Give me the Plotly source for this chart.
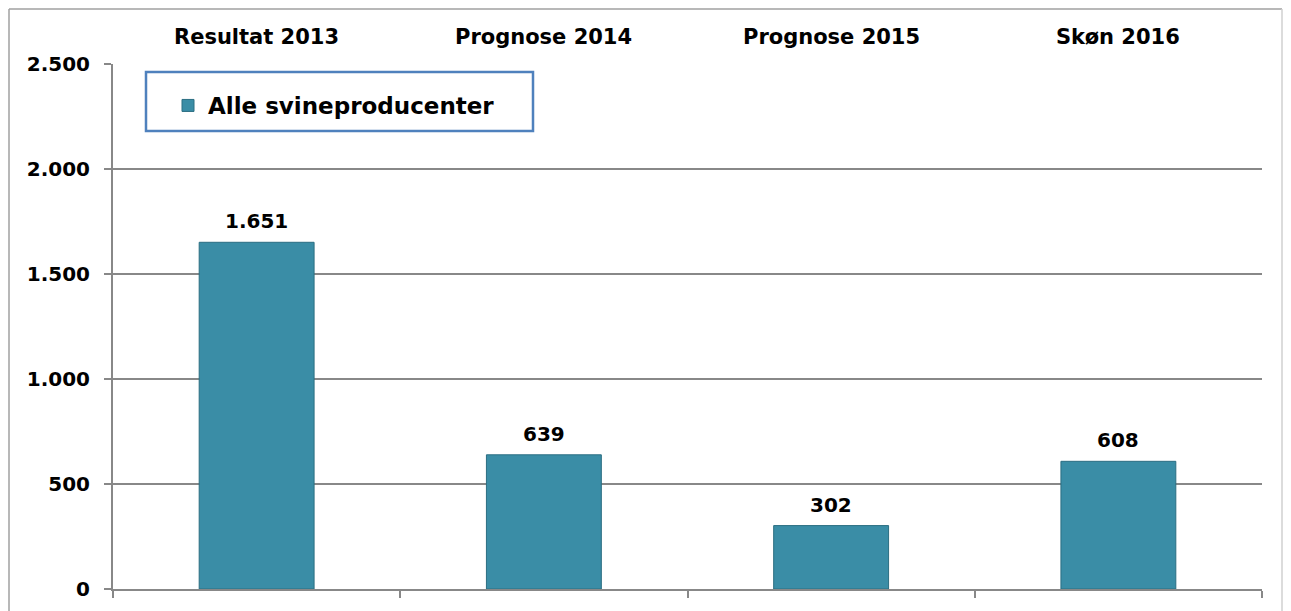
import plotly.graph_objects as go

categories = ["Resultat 2013", "Prognose 2014", "Prognose 2015", "Skøn 2016"]
values = [1651, 639, 302, 608]
value_labels = ["1.651", "639", "302", "608"]
series_name = "Alle svineproducenter"
y_tickvals = [0, 500, 1000, 1500, 2000, 2500]
y_ticktext = ["0", "500", "1.000", "1.500", "2.000", "2.500"]

FONT = "DejaVu Sans"
BAR = "#3A8DA6"

# plot area in page pixels (page has 8px body margin)
PL, PR, PT, PB = 113, 1262, 64, 589
W, H = 1291, 611
OFF = 8
PW, PH = PR - PL, PB - PT

def px(x):
    return (x - PL) / PW

def py(y):
    return (PB - y) / PH

fig = go.Figure()
fig.add_trace(go.Bar(
    x=categories, y=values, name=series_name,
    marker=dict(color=BAR, line=dict(color="#2B6E82", width=1)),
    showlegend=True, hoverinfo="x+y",
))

for c, v, t in zip(categories, values, value_labels):
    fig.add_annotation(x=c, y=v, xref="x", yref="y", yanchor="bottom", yshift=7,
                       text="<b>%s</b>" % t, showarrow=False,
                       font=dict(family=FONT, size=20, color="#000000"))

for c in categories:
    fig.add_annotation(x=c, y=1, xref="x", yref="paper", yanchor="middle",
                       yshift=PT - 37,
                       text="<b>%s</b>" % c, showarrow=False,
                       font=dict(family=FONT, size=21, color="#000000"))

# outer frame (left, top darker; right lighter)
fig.add_shape(type="line", xref="paper", yref="paper",
              x0=px(9), x1=px(9), y0=py(640), y1=py(9),
              line=dict(color="#A0A0A0", width=1.5), layer="below")
fig.add_shape(type="line", xref="paper", yref="paper",
              x0=px(9), x1=px(1282), y0=py(9), y1=py(9),
              line=dict(color="#A0A0A0", width=1.5), layer="below")
fig.add_shape(type="line", xref="paper", yref="paper",
              x0=px(1282), x1=px(1282), y0=py(9), y1=py(640),
              line=dict(color="#D0D0D0", width=1.5), layer="below")
# legend box
fig.add_shape(type="rect", xref="paper", yref="paper",
              x0=px(146), x1=px(533), y0=py(131), y1=py(72),
              line=dict(color="#4F81BD", width=2.5), fillcolor="white", layer="above")

fig.update_layout(
    width=W, height=H,
    margin=dict(l=PL - OFF, r=W + OFF - PR, t=PT - OFF, b=H + OFF - PB),
    paper_bgcolor="white", plot_bgcolor="white",
    bargap=0.6,
    font=dict(family=FONT, color="#000000"),
    legend=dict(x=px(168), y=py(84), xanchor="left", yanchor="top",
                bgcolor="rgba(0,0,0,0)", borderwidth=0,
                font=dict(family=FONT, size=23, color="#000000", weight="bold")),
    xaxis=dict(showticklabels=False, tickson="boundaries", ticks="outside",
               ticklen=7, tickcolor="#888888", tickwidth=2,
               showline=True, linecolor="#888888", linewidth=2, showgrid=False),
    yaxis=dict(range=[0, 2500], tickvals=y_tickvals, ticktext=y_ticktext,
               ticks="outside", ticklen=7, tickcolor="#888888", tickwidth=2,
               showline=True, linecolor="#888888", linewidth=2,
               showgrid=True, gridcolor="#888888", gridwidth=2,
               tickfont=dict(family=FONT, size=20, color="#000000", weight="bold"),
               ticklabelstandoff=10, zeroline=False),
)

fig.write_html("out.html")
